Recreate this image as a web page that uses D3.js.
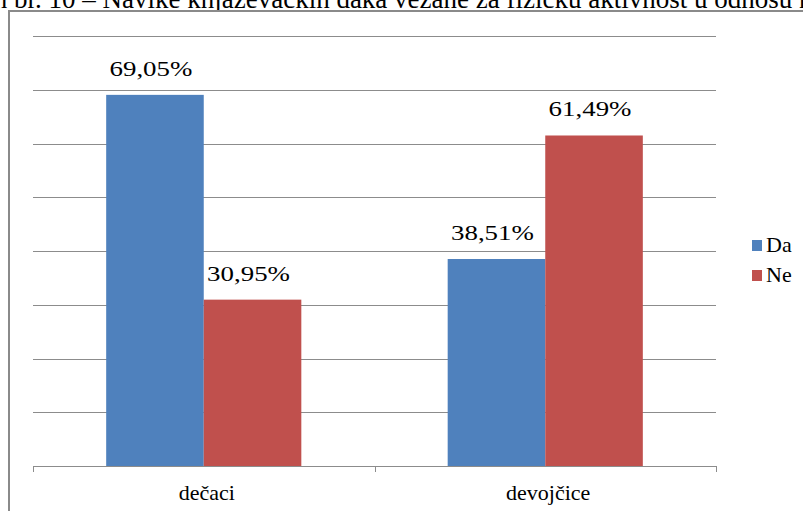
<!DOCTYPE html>
<meta charset="utf-8">
<style>

body {
  margin: 0;
  background: white;
}

.grid line {
  stroke: #8c8c8c;
  stroke-width: 1px;
}

.axis line {
  stroke: #8c8c8c;
  stroke-width: 1px;
}

</style>
<svg></svg>
<script src="https://cdn.jsdelivr.net/npm/d3@7"></script>
<script>

var width = 803;
var height = 511;
var serif = "'Liberation Serif', 'Times New Roman', serif";

var title = 'Grafikon br. 10 – Navike knjaževačkih đaka vezane za fizičku aktivnost u odnosu na pol';
var categories = ['dečaci', 'devojčice'];
var series = ['Da', 'Ne'];
var daValues = [69.05, 38.51];
var neValues = [30.95, 61.49];
var yTicks = [10, 20, 30, 40, 50, 60, 70, 80];
var colors = ['#4f81bd', '#c0504d'];

var svg = d3.select('svg')
  .attr('width', width)
  .attr('height', height);

var rows = categories.map(function (c, i) {
  return { cat: c, values: [daValues[i], neValues[i]] };
});

var x = d3.scaleBand().domain(categories).range([33, 716]);
var xInner = d3.scaleBand().domain(series).range([0, x.bandwidth()]).paddingOuter(0.75);
var y = d3.scaleLinear().domain([0, 80]).range([466, 36]);
var color = d3.scaleOrdinal().domain(series).range(colors);

// title, cut off by the top edge
var t = svg.append('text')
  .attr('y', 8)
  .style('font-family', serif)
  .style('font-size', '27px')
  .text(title);
var shift = t.node().getSubStringLength(0, 9);
t.attr('x', 14 - shift);

// outer frame
svg.append('rect')
  .attr('x', 9)
  .attr('y', 11)
  .attr('width', 820)
  .attr('height', 520)
  .attr('fill', 'white')
  .attr('stroke', '#8a8a8a')
  .attr('stroke-width', 2);

svg.append('g')
  .attr('class', 'grid')
  .selectAll('line')
  .data(yTicks)
  .enter().append('line')
  .attr('x1', 33)
  .attr('x2', 716)
  .attr('y1', function (d) { return Math.round(y(d)) + 0.5; })
  .attr('y2', function (d) { return Math.round(y(d)) + 0.5; });

var groups = svg.append('g')
  .selectAll('g')
  .data(rows)
  .enter().append('g')
  .attr('transform', function (d) { return 'translate(' + x(d.cat) + ',0)'; });

groups.selectAll('rect')
  .data(function (d) { return d.values.map(function (v, i) { return { key: series[i], value: v }; }); })
  .enter().append('rect')
  .attr('x', function (d) { return xInner(d.key); })
  .attr('width', xInner.bandwidth())
  .attr('y', function (d) { return y(d.value); })
  .attr('height', function (d) { return y(0) - y(d.value); })
  .attr('fill', function (d) { return color(d.key); });

// value labels look a bit stretched sideways in the original
groups.selectAll('text')
  .data(function (d) { return d.values.map(function (v, i) { return { key: series[i], value: v }; }); })
  .enter().append('text')
  .attr('transform', function (d) {
    return 'translate(' + (xInner(d.key) + xInner.bandwidth() / 2 - 4) + ',' + (y(d.value) - 19) + ') scale(1.28,1)';
  })
  .attr('text-anchor', 'middle')
  .style('font-family', serif)
  .style('font-size', '21px')
  .text(function (d) { return d3.format('.2f')(d.value).replace('.', ',') + '%'; });

// category axis
var axis = svg.append('g').attr('class', 'axis');
axis.append('line')
  .attr('x1', 33).attr('x2', 716)
  .attr('y1', y(0) + 0.5).attr('y2', y(0) + 0.5);
axis.selectAll('line.tick')
  .data(x.domain().map(function (d) { return x(d); }).concat([x.range()[1]]))
  .enter().append('line')
  .attr('class', 'tick')
  .attr('x1', function (d) { return Math.round(d) + 0.5; })
  .attr('x2', function (d) { return Math.round(d) + 0.5; })
  .attr('y1', y(0))
  .attr('y2', y(0) + 6);
axis.selectAll('text')
  .data(categories)
  .enter().append('text')
  .attr('x', function (d) { return x(d) + x.bandwidth() / 2 + 3; })
  .attr('y', 500)
  .attr('text-anchor', 'middle')
  .style('font-family', serif)
  .style('font-size', '22px')
  .text(function (d) { return d; });

// legend
var legend = svg.append('g')
  .selectAll('g')
  .data(series)
  .enter().append('g')
  .attr('transform', function (d, i) { return 'translate(752,' + (240 + i * 30) + ')'; });

legend.append('rect')
  .attr('width', 10)
  .attr('height', 11)
  .attr('fill', function (d) { return color(d); });

legend.append('text')
  .attr('x', 14)
  .attr('y', 12)
  .style('font-family', serif)
  .style('font-size', '22px')
  .text(function (d) { return d; });

</script>
